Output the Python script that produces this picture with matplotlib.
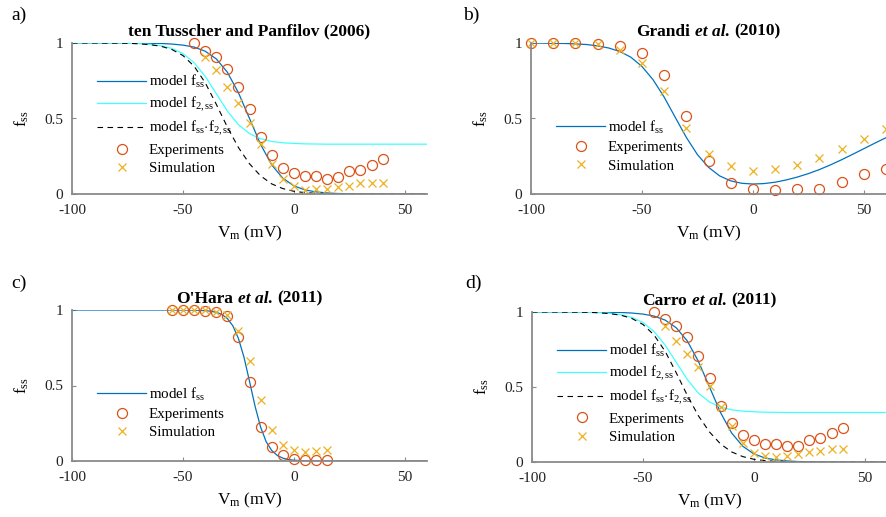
import matplotlib
matplotlib.use("Agg")
import matplotlib.pyplot as plt
from matplotlib.offsetbox import TextArea, HPacker, AnchoredOffsetbox

plt.rcParams['font.family'] = ['Liberation Serif', 'DejaVu Serif']
plt.rcParams['mathtext.fontset'] = 'custom'
plt.rcParams['mathtext.rm'] = 'Liberation Serif'
plt.rcParams['mathtext.it'] = 'Liberation Serif:italic'
plt.rcParams['mathtext.bf'] = 'Liberation Serif:bold'
plt.rcParams['axes.unicode_minus'] = False

# ---------------- data ----------------
V_curve = [-100, -95, -90, -85, -80, -75, -70, -65, -60, -55, -50, -45, -40, -35, -30,
           -25, -20, -15, -10, -5, 0, 5, 10, 15, 20, 25, 30, 35, 40, 45, 50, 55, 60]

# ten Tusscher & Panfilov (2006) / Carro et al. (2011) model curves
tt_fss = [1.000, 1.000, 1.000, 1.000, 1.000, 0.999, 0.999, 0.998, 0.997, 0.993, 0.986, 0.973,
          0.946, 0.895, 0.807, 0.671, 0.500, 0.329, 0.193, 0.105, 0.054, 0.027, 0.014, 0.007,
          0.003, 0.002, 0.001, 0.0, 0.0, 0.0, 0.0, 0.0, 0.0]
tt_f2ss = [1.000, 1.000, 1.000, 0.9995, 0.999, 0.998, 0.996, 0.991, 0.982, 0.964, 0.930, 0.870,
           0.780, 0.665, 0.550, 0.459, 0.400, 0.366, 0.348, 0.339, 0.335, 0.332, 0.331, 0.330,
           0.330, 0.330, 0.330, 0.330, 0.330, 0.330, 0.330, 0.330, 0.330]
tt_prod = [1.000, 1.000, 1.000, 0.999, 0.999, 0.998, 0.995, 0.989, 0.979, 0.957, 0.917, 0.847,
           0.738, 0.595, 0.444, 0.308, 0.200, 0.120, 0.067, 0.036, 0.018, 0.009, 0.005, 0.002,
           0.001, 0.001, 0.0, 0.0, 0.0, 0.0, 0.0, 0.0, 0.0]

# Grandi et al. (2010) model curve
gr_fss = [1.000, 0.999, 0.998, 0.997, 0.994, 0.990, 0.981, 0.967, 0.944, 0.906, 0.845, 0.757,
          0.642, 0.508, 0.375, 0.261, 0.177, 0.120, 0.087, 0.071, 0.066, 0.069, 0.078, 0.093,
          0.112, 0.135, 0.162, 0.193, 0.227, 0.263, 0.300, 0.337, 0.373]

# O'Hara et al. (2011) model curve
V_ohara_curve = [-100, -90, -80, -70, -60, -50, -45, -40, -37.5, -35, -32.5, -30, -27.5, -25,
                 -22.5, -20, -17.5, -15, -12.5, -10, -7.5, -5, -2.5, 0, 2.5, 5, 10, 20, 30,
                 40, 50, 60]
oh_fss = [1.0, 1.0, 1.0, 1.0, 1.0, 1.0, 0.999, 0.996, 0.992, 0.985, 0.971, 0.944, 0.895, 0.812,
          0.688, 0.528, 0.363, 0.225, 0.128, 0.070, 0.037, 0.019, 0.010, 0.005, 0.003, 0.001,
          0.0, 0.0, 0.0, 0.0, 0.0, 0.0]

# experiments / simulations
V_tt_exp = [-45, -40, -35, -30, -25, -20, -15, -10, -5, 0, 5, 10, 15, 20, 25, 30, 35, 40]
tt_exp = [1.00, 0.95, 0.91, 0.83, 0.71, 0.56, 0.38, 0.26, 0.17, 0.14, 0.12, 0.12, 0.10, 0.11,
          0.15, 0.16, 0.19, 0.23]
V_tt_sim = [-40, -35, -30, -25, -20, -15, -10, -5, 0, 5, 10, 15, 20, 25, 30, 35, 40]
tt_sim = [0.91, 0.82, 0.71, 0.60, 0.47, 0.33, 0.20, 0.10, 0.05, 0.025, 0.03, 0.035, 0.045,
          0.055, 0.07, 0.07, 0.075]

V_gr = [-100, -90, -80, -70, -60, -50, -40, -30, -20, -10, 0, 10, 20, 30, 40, 50, 60]
gr_exp = [1.0, 1.0, 1.0, 0.995, 0.98, 0.935, 0.785, 0.515, 0.22, 0.075, 0.03, 0.025, 0.03,
          0.035, 0.08, 0.13, 0.165]
gr_sim = [1.0, 1.0, 1.0, 0.995, 0.955, 0.87, 0.685, 0.44, 0.265, 0.185, 0.155, 0.165, 0.195,
          0.24, 0.30, 0.365, 0.43]

V_oh = [-55, -50, -45, -40, -35, -30, -25, -20, -15, -10, -5, 0, 5, 10, 15]
oh_exp = [1.0, 1.0, 1.0, 0.995, 0.985, 0.96, 0.82, 0.52, 0.225, 0.09, 0.04, 0.015, 0.005,
          0.005, 0.005]
oh_sim = [1.0, 1.0, 1.0, 1.0, 0.985, 0.965, 0.86, 0.66, 0.405, 0.205, 0.105, 0.07, 0.06,
          0.065, 0.075]

V_ca_exp = [-45, -40, -35, -30, -25, -20, -15, -10, -5, 0, 5, 10, 15, 20, 25, 30, 35, 40]
ca_exp = [1.00, 0.955, 0.91, 0.835, 0.71, 0.56, 0.375, 0.26, 0.18, 0.145, 0.12, 0.12, 0.105,
          0.11, 0.15, 0.16, 0.195, 0.23]
V_ca_sim = [-40, -35, -30, -25, -20, -15, -10, -5, 0, 5, 10, 15, 20, 25, 30, 35, 40]
ca_sim = [0.91, 0.81, 0.72, 0.635, 0.51, 0.37, 0.24, 0.125, 0.06, 0.04, 0.035, 0.04, 0.055,
          0.07, 0.075, 0.085, 0.09]

# title pieces: (text, italic?)
titles = [[("ten Tusscher and Panfilov (2006)", False)],
          [("Grandi", False), ("et al.", True), ("(2010)", False)],
          [("O'Hara", False), ("et al.", True), ("(2011)", False)],
          [("Carro", False), ("et al.", True), ("(2011)", False)]]
panel_labels = ["a)", "b)", "c)", "d)"]

# ---------------- styles ----------------
C_BLUE = '#0072BD'
C_CYAN = '#40FFFF'
C_EXP = '#D95319'
C_SIM = '#EDB120'
C_AX = '#8a8a8a'
TITLE_FS = 12.5

fig = plt.figure(figsize=(8.86, 5.17), dpi=100)
W, H = 886, 517

def make_ax(left, top, right, bottom):
    return fig.add_axes([left / W, 1 - bottom / H, (right - left) / W, (bottom - top) / H])

axes = [make_ax(72, 43, 427, 194), make_ax(531, 43, 886, 194),
        make_ax(72, 310, 427, 461), make_ax(532, 312, 887, 462)]

lab_ss = "model f$_{\\rm ss}$"
lab_f2 = "model f$_{\\rm 2,ss}$"
lab_pr = "model f$_{\\rm ss}$$\\cdot$f$_{\\rm 2,ss}$"

def scatter(ax, vx, vy, kind):
    if kind == 'exp':
        return ax.plot(vx, vy, 'o', ms=7.2, mfc='none', mec=C_EXP, mew=0.9,
                       label='Experiments', clip_on=False)[0]
    return ax.plot(vx, vy, 'x', ms=6, mec=C_SIM, mew=0.9, label='Simulation',
                   clip_on=False)[0]

# a) ten Tusscher
ax = axes[0]
ax.plot(V_curve, tt_fss, color=C_BLUE, lw=0.9, label=lab_ss)
ax.plot(V_curve, tt_f2ss, color=C_CYAN, lw=0.9, label=lab_f2)
ax.plot(V_curve, tt_prod, color='k', lw=0.8, ls=(0, (5, 4)), label=lab_pr)
scatter(ax, V_tt_exp, tt_exp, 'exp')
scatter(ax, V_tt_sim, tt_sim, 'sim')

# b) Grandi
ax = axes[1]
ax.plot(V_curve, gr_fss, color=C_BLUE, lw=0.9, label=lab_ss)
scatter(ax, V_gr, gr_exp, 'exp')
scatter(ax, V_gr, gr_sim, 'sim')

# c) O'Hara
ax = axes[2]
ax.plot(V_ohara_curve, oh_fss, color=C_BLUE, lw=0.9, label=lab_ss)
scatter(ax, V_oh, oh_exp, 'exp')
scatter(ax, V_oh, oh_sim, 'sim')

# d) Carro
ax = axes[3]
ax.plot(V_curve, tt_fss, color=C_BLUE, lw=0.9, label=lab_ss)
ax.plot(V_curve, tt_f2ss, color=C_CYAN, lw=0.9, label=lab_f2)
ax.plot(V_curve, tt_prod, color='k', lw=0.8, ls=(0, (5, 4)), label=lab_pr)
scatter(ax, V_ca_exp, ca_exp, 'exp')
scatter(ax, V_ca_sim, ca_sim, 'sim')

leg_anchor = [(0.07, 0.80), (0.07, 0.50), (0.07, 0.50), (0.07, 0.80)]

for i, ax in enumerate(axes):
    ax.set_xlim(-100, 60)
    ax.set_ylim(0, 1)
    ax.set_xticks([-100, -50, 0, 50])
    ax.set_xticklabels(['-100', '-50', '0', '50'])
    ax.set_yticks([0, 0.5, 1])
    ax.set_yticklabels(['0', '0.5', '1'])
    for s in ['top', 'right']:
        ax.spines[s].set_visible(False)
    for s in ['left', 'bottom']:
        ax.spines[s].set_color(C_AX)
        ax.spines[s].set_linewidth(1.3)
    ax.tick_params(direction='in', length=3, width=0.8, color=C_AX, labelsize=11,
                   labelcolor='#222222')
    ax.tick_params(axis='x', pad=7)
    ax.tick_params(axis='y', pad=6.5)
    ax.set_xlabel("V$_{\\rm m}$ (mV)", fontsize=12.5, labelpad=5)
    ax.set_ylabel("f$_{\\rm ss}$", fontsize=12.5, labelpad=9)

    pieces = [TextArea(txt, textprops=dict(fontsize=TITLE_FS, fontweight='bold',
                                           fontstyle='italic' if it else 'normal'))
              for txt, it in titles[i]]
    box = HPacker(children=pieces, align='baseline', pad=0, sep=3.3)
    anch = AnchoredOffsetbox(loc='lower center', child=box, bbox_to_anchor=(0.5, 1.0),
                             bbox_transform=ax.transAxes, frameon=False, pad=0,
                             borderpad=0.25)
    ax.add_artist(anch)

    ax.legend(loc='upper left', bbox_to_anchor=leg_anchor[i], frameon=False,
              fontsize=10.8, handlelength=3.3, handletextpad=0.15, labelspacing=0.33,
              borderpad=0, borderaxespad=0)

label_pos = [(19, 15), (471, 15), (19, 283), (473, 283)]
for lab, (x, y) in zip(panel_labels, label_pos):
    fig.text(x / W, 1 - y / H, lab, fontsize=14, ha='center', va='center')

fig.savefig('out.png', dpi=100)
